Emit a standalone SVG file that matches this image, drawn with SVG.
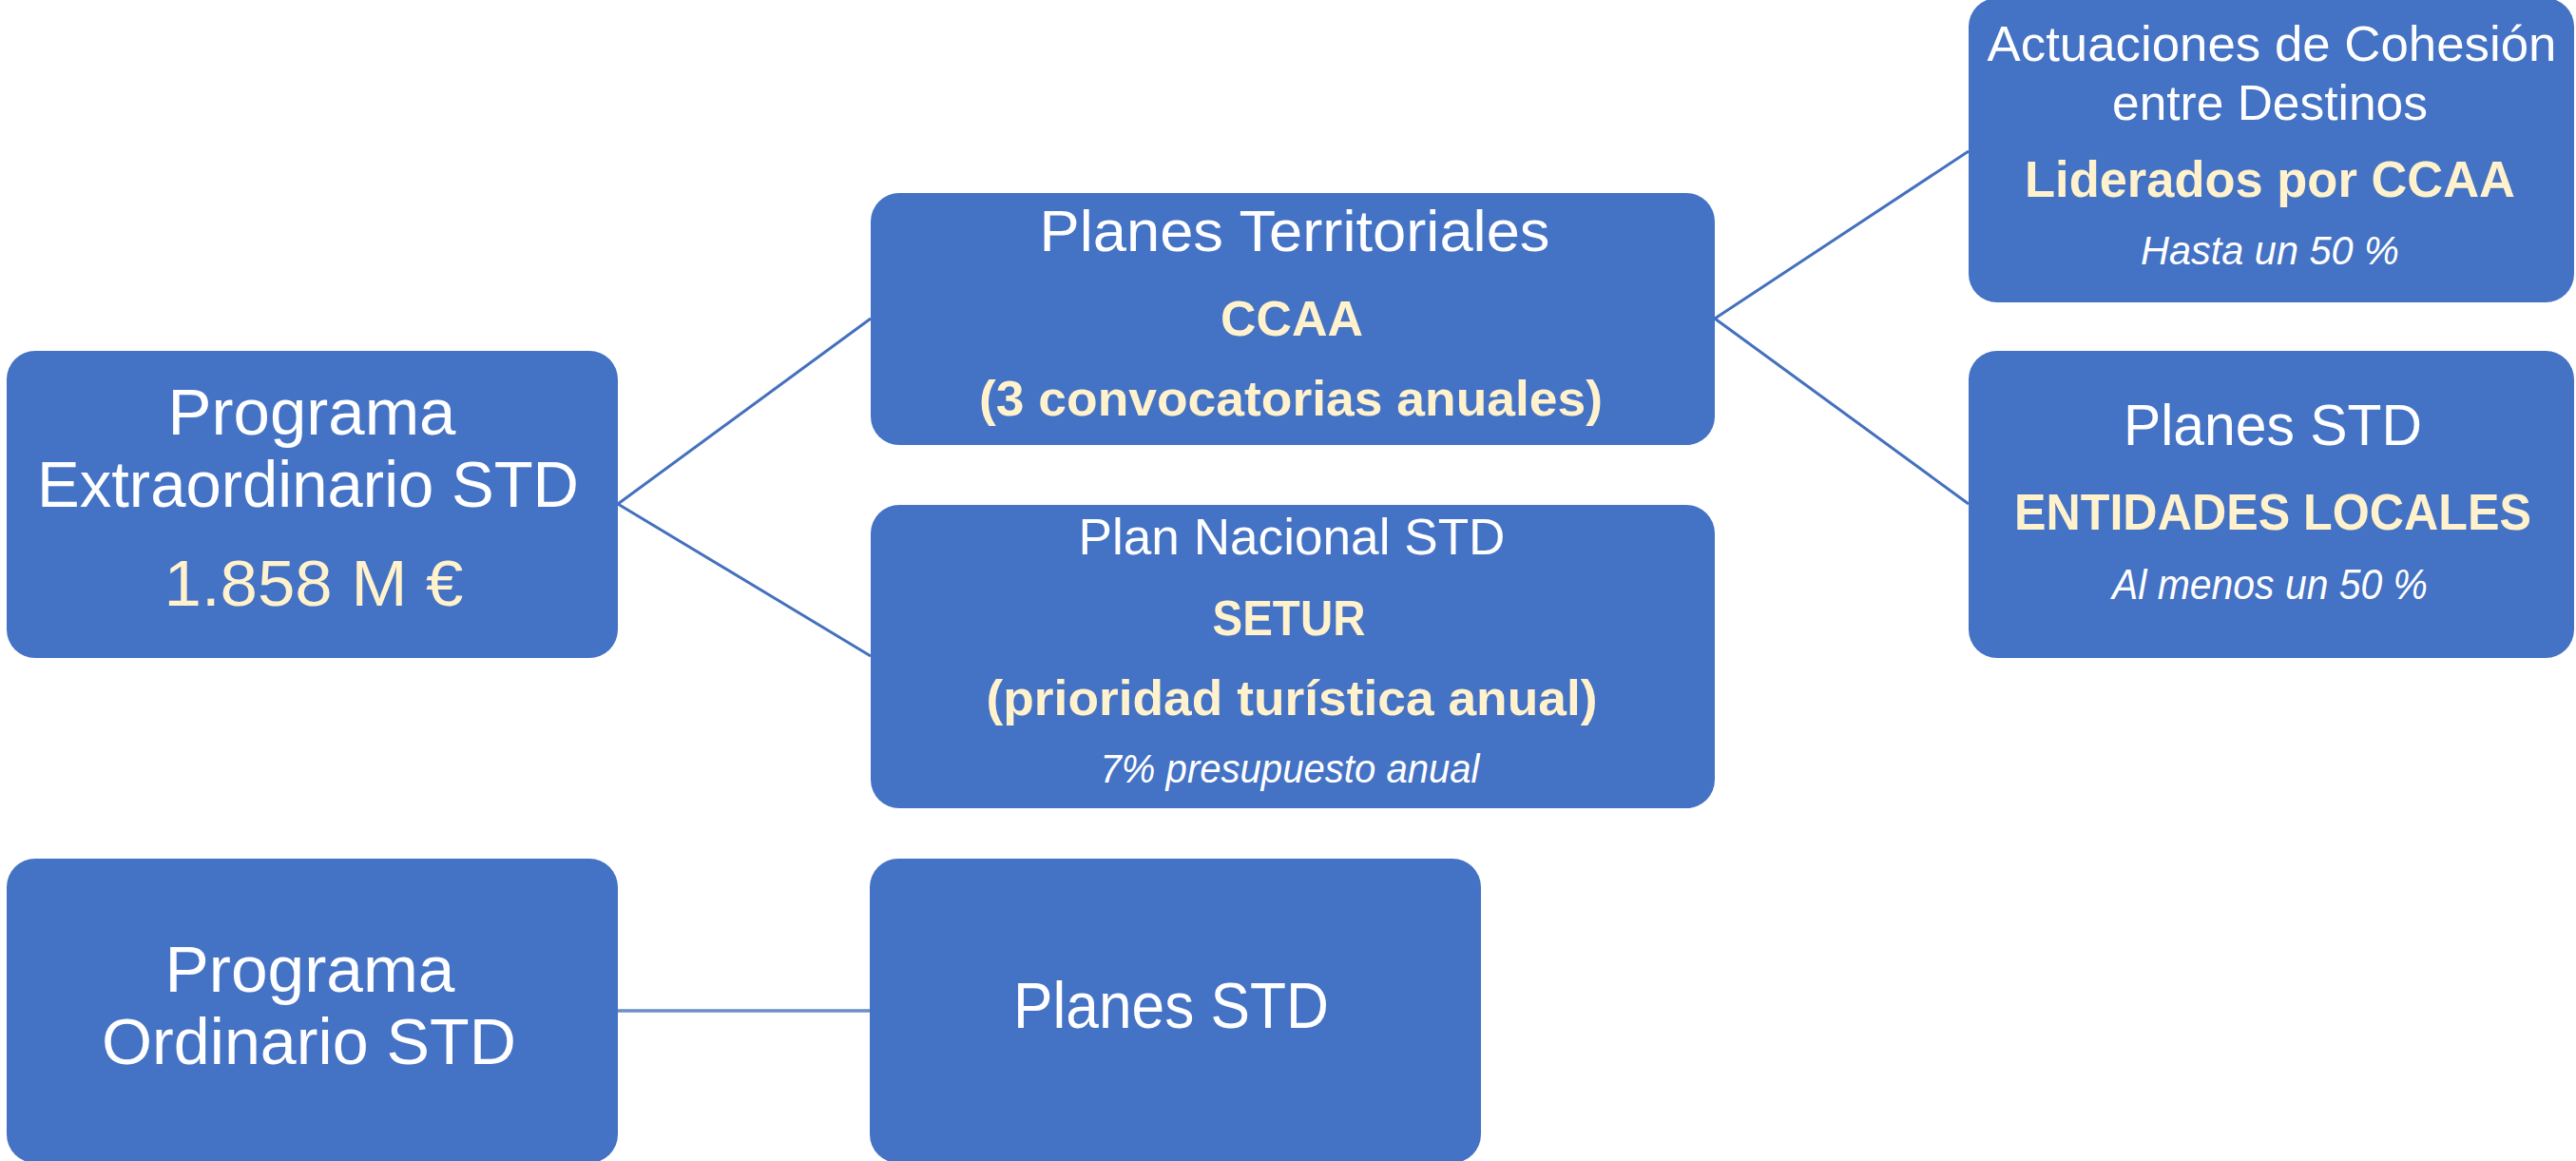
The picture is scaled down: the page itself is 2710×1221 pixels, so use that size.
<svg xmlns="http://www.w3.org/2000/svg" width="2710" height="1221" viewBox="0 0 2710 1221">
<style>
.box{fill:#4472C4}
.t{font-family:"Liberation Sans",Arial,sans-serif;text-anchor:middle;fill:#FFFFFF}
.c{fill:#FFF2CC}
.b{font-weight:bold}
.i{font-style:italic}
.conn{stroke:#4470BE;stroke-width:3;fill:none}
</style>
<rect width="2710" height="1221" fill="#FFFFFF"/>
<g id="connectors">
<line class="conn" x1="650" y1="530" x2="916" y2="335"/>
<line class="conn" x1="650" y1="530" x2="916" y2="690"/>
<line class="conn" x1="1804" y1="335" x2="2071" y2="159"/>
<line class="conn" x1="1804" y1="335" x2="2071" y2="530"/>
<line class="conn" x1="650" y1="1063" x2="915" y2="1063" style="stroke:#6F8DC4;stroke-width:3.5"/>
</g>
<g id="programa-extraordinario">
<rect class="box" x="7" y="369" width="643" height="323" rx="30"/>
<text class="t" x="328" y="457" font-size="68" textLength="303" lengthAdjust="spacingAndGlyphs">Programa</text>
<text class="t" x="324" y="533" font-size="68" textLength="570" lengthAdjust="spacingAndGlyphs">Extraordinario STD</text>
<text class="t c" x="330" y="637" font-size="68" textLength="315" lengthAdjust="spacingAndGlyphs">1.858 M €</text>
</g>
<g id="planes-territoriales">
<rect class="box" x="916" y="203" width="888" height="265" rx="30"/>
<text class="t" x="1362" y="264" font-size="62" textLength="537" lengthAdjust="spacingAndGlyphs">Planes Territoriales</text>
<text class="t c b" x="1359" y="353" font-size="52" textLength="150" lengthAdjust="spacingAndGlyphs">CCAA</text>
<text class="t c b" x="1358" y="437" font-size="52" textLength="656" lengthAdjust="spacingAndGlyphs">(3 convocatorias anuales)</text>
</g>
<g id="plan-nacional">
<rect class="box" x="916" y="531" width="888" height="319" rx="30"/>
<text class="t" x="1359" y="583" font-size="53" textLength="449" lengthAdjust="spacingAndGlyphs">Plan Nacional STD</text>
<text class="t c b" x="1356" y="668" font-size="52" textLength="161" lengthAdjust="spacingAndGlyphs">SETUR</text>
<text class="t c b" x="1359" y="752" font-size="52" textLength="643" lengthAdjust="spacingAndGlyphs">(prioridad turística anual)</text>
<text class="t i" x="1357" y="823" font-size="42" textLength="399" lengthAdjust="spacingAndGlyphs">7% presupuesto anual</text>
</g>
<g id="actuaciones-cohesion">
<rect class="box" x="2071" y="-2" width="637" height="320" rx="30"/>
<text class="t" x="2390" y="64" font-size="52" textLength="599" lengthAdjust="spacingAndGlyphs">Actuaciones de Cohesión</text>
<text class="t" x="2388" y="126" font-size="52" textLength="332" lengthAdjust="spacingAndGlyphs">entre Destinos</text>
<text class="t c b" x="2388" y="207" font-size="54" textLength="516" lengthAdjust="spacingAndGlyphs">Liderados por CCAA</text>
<text class="t i" x="2388" y="278" font-size="42" textLength="272" lengthAdjust="spacingAndGlyphs">Hasta un 50 %</text>
</g>
<g id="planes-std-entidades">
<rect class="box" x="2071" y="369" width="637" height="323" rx="30"/>
<text class="t" x="2391" y="468" font-size="62" textLength="314" lengthAdjust="spacingAndGlyphs">Planes STD</text>
<text class="t c b" x="2391" y="557" font-size="54" textLength="544" lengthAdjust="spacingAndGlyphs">ENTIDADES LOCALES</text>
<text class="t i" x="2388" y="630" font-size="44" textLength="332" lengthAdjust="spacingAndGlyphs">Al menos un 50 %</text>
</g>
<g id="programa-ordinario">
<rect class="box" x="7" y="903" width="643" height="320" rx="30"/>
<text class="t" x="326" y="1043" font-size="68" textLength="305" lengthAdjust="spacingAndGlyphs">Programa</text>
<text class="t" x="325" y="1119" font-size="68" textLength="436" lengthAdjust="spacingAndGlyphs">Ordinario STD</text>
</g>
<g id="planes-std">
<rect class="box" x="915" y="903" width="643" height="320" rx="30"/>
<text class="t" x="1232" y="1081" font-size="68" textLength="332" lengthAdjust="spacingAndGlyphs">Planes STD</text>
</g>
</svg>
